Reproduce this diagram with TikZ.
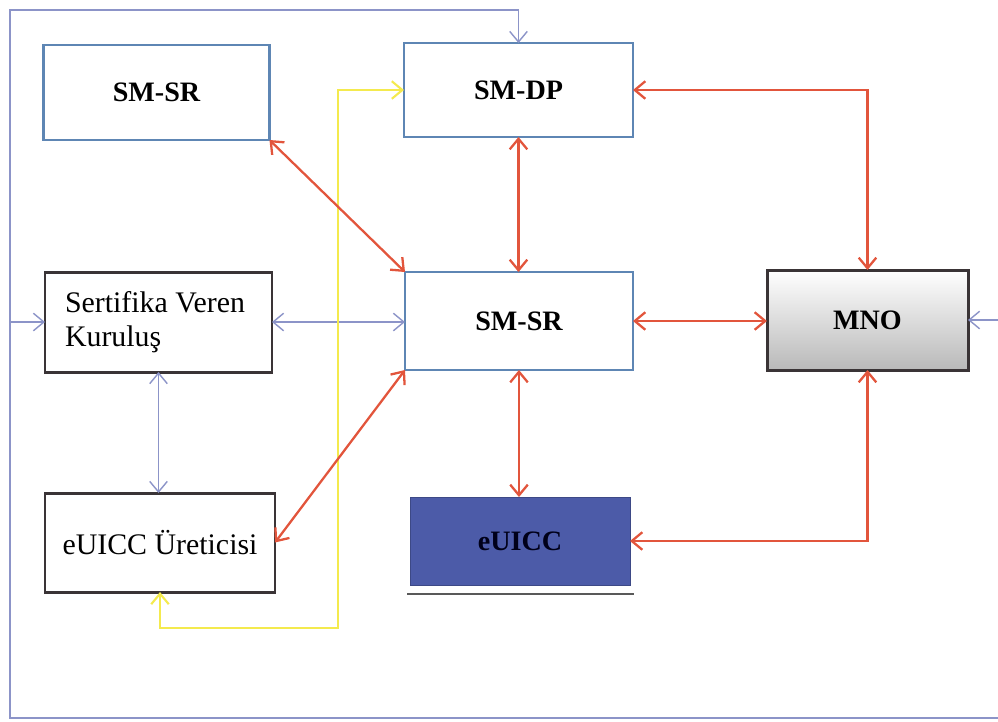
\documentclass[tikz,border=0pt]{standalone}
\usepackage{fontspec}
\setmainfont{Liberation Serif}
\usetikzlibrary{arrows.meta}
\definecolor{boxblue}{HTML}{5E86B4}
\definecolor{conred}{HTML}{E2553C}
\definecolor{conblue}{HTML}{8C94C8}
\definecolor{conyel}{HTML}{F4EA4E}
\definecolor{chipblue}{HTML}{4C5BA8}
\definecolor{darkline}{HTML}{3A3436}
\tikzset{
  every node/.style={font=\fontsize{16}{19}\selectfont},
  bluebox/.style={draw=boxblue, line width=1.3pt, inner sep=0pt, outer sep=0pt, font=\fontsize{16}{19}\selectfont\bfseries},
  darkbox/.style={draw=darkline, line width=1.7pt, inner sep=0pt, outer sep=0pt, font=\fontsize{17}{20}\selectfont},
  redc/.style={draw=conred, line width=1.3pt, {Straight Barb[length=6pt,width=10pt]}-{Straight Barb[length=6pt,width=10pt]}},
  bluec/.style={draw=conblue, line width=0.8pt},
  yelc/.style={draw=conyel, line width=1.2pt, {Straight Barb[length=6pt,width=10pt]}-{Straight Barb[length=6pt,width=10pt]}},
}
\begin{document}
\begin{tikzpicture}[x=0.02cm,y=-0.02cm]
\useasboundingbox (0,0) rectangle (998,721);
% boxes
\node[bluebox, minimum width=226*0.02cm, minimum height=95*0.02cm] (smsra) at (156.5,92.5) {SM-SR};
\node[bluebox, minimum width=229*0.02cm, minimum height=94*0.02cm] (smdp) at (518.5,90) {SM-DP};
\node[bluebox, minimum width=228*0.02cm, minimum height=98*0.02cm] (smsrb) at (519,321) {SM-SR};
\node[darkbox, minimum width=227*0.02cm, minimum height=100*0.02cm, inner xsep=0.4cm, text width=3.74cm, align=flush left] (sert) at (158.5,322) {Sertifika Veren\\[-1pt]Kuruluş\\[4pt]};
\node[darkbox, minimum width=230*0.02cm, minimum height=99*0.02cm] (ure) at (160,542.5) {eUICC Üreticisi};
\node[darkbox, top color=white, bottom color=gray!55, minimum width=201*0.02cm, minimum height=100*0.02cm, font=\fontsize{16}{19}\selectfont\bfseries] (mno) at (867.5,320) {MNO};
\node[fill=chipblue, draw=chipblue!80!black, line width=0.4pt, inner sep=0pt, outer sep=0pt, minimum width=220*0.02cm, minimum height=88*0.02cm, text=black!90!blue, font=\fontsize{16}{19}\selectfont\bfseries] (euicc) at (520,541) {eUICC};
\coordinate (ula) at (407,594);
\coordinate (ulb) at (634,594);
\draw[gray!70!black, line width=1.2pt] (ula) -- (ulb);
% outer frame
\coordinate (frbr) at (998,718);
\coordinate (frtl) at (10,10);
\coordinate (rin) at (999,320);
\coordinate (lin) at (10,322);
\draw[bluec, -{Straight Barb[length=6pt,width=10pt]}] (frbr) -| (frtl) -| (smdp.north);
\draw[bluec, -{Straight Barb[length=6pt,width=10pt]}] (rin) -- (mno.east);
\draw[bluec, -{Straight Barb[length=6pt,width=10pt]}] (lin) -- (sert.west);
% blue-grey connectors
\draw[bluec, {Straight Barb[length=6pt,width=10pt]}-{Straight Barb[length=6pt,width=10pt]}] (sert.east) -- (sert.east -| smsrb.west);
\draw[bluec, {Straight Barb[length=6pt,width=10pt]}-{Straight Barb[length=6pt,width=10pt]}] (sert.south) -- (sert.south |- ure.north);
% yellow connector
\coordinate (ycor) at (338,628);
\draw[yelc] (ure.south) |- (ycor) |- (smdp.west);
% red connectors
\draw[redc] (smsra.south east) -- (smsrb.north west);
\draw[redc] (smdp.south) -- (smdp.south |- smsrb.north);
\draw[redc] (smdp.east) -| (mno.north);
\draw[redc] (smsrb.east) -- (smsrb.east -| mno.west);
\draw[redc] (smsrb.south) -- (smsrb.south |- euicc.north);
\draw[redc] (euicc.east) -| (mno.south);
\draw[redc] (ure.east) -- (smsrb.south west);
\end{tikzpicture}
\end{document}
